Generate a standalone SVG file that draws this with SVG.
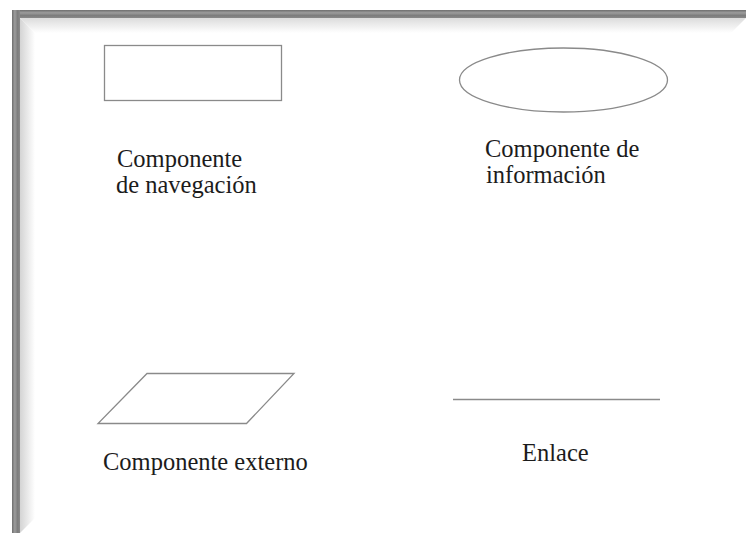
<svg xmlns="http://www.w3.org/2000/svg" width="746" height="533" viewBox="0 0 746 533">
  <defs>
    <linearGradient id="bandTop" x1="0" y1="0" x2="0" y2="1">
      <stop offset="0" stop-color="#6e6e6e"/>
      <stop offset="0.35" stop-color="#9c9c9c"/>
      <stop offset="0.7" stop-color="#7c7c7c"/>
      <stop offset="1" stop-color="#8a8a8a"/>
    </linearGradient>
    <linearGradient id="bandLeft" x1="0" y1="0" x2="1" y2="0">
      <stop offset="0" stop-color="#6e6e6e"/>
      <stop offset="0.35" stop-color="#9c9c9c"/>
      <stop offset="0.7" stop-color="#7c7c7c"/>
      <stop offset="1" stop-color="#8a8a8a"/>
    </linearGradient>
    <linearGradient id="shadeTop" x1="0" y1="0" x2="0" y2="1">
      <stop offset="0" stop-color="#dcdcdc"/>
      <stop offset="1" stop-color="#ffffff"/>
    </linearGradient>
    <linearGradient id="shadeLeft" x1="0" y1="0" x2="1" y2="0">
      <stop offset="0" stop-color="#d4d4d4"/>
      <stop offset="1" stop-color="#ffffff"/>
    </linearGradient>
  </defs>
  <style>
    .shape { fill: none; stroke: #8a8a8a; stroke-width: 1.3; }
    .label { font-family: "Liberation Serif", "Times New Roman", serif; font-size: 24.5px; fill: #1c1c1c; }
  </style>

  <rect x="0" y="0" width="746" height="533" fill="#ffffff"/>

  <!-- picture frame: bevel bands and inner shading -->
  <g id="frame">
    <polygon points="20,18 746,18 731,33 35,33" fill="url(#shadeTop)"/>
    <polygon points="20,18 35,33 35,518 20,533" fill="url(#shadeLeft)"/>
    <rect x="12" y="10" width="734" height="8" fill="url(#bandTop)"/>
    <rect x="12" y="10" width="8" height="523" fill="url(#bandLeft)"/>
  </g>

  <g id="nav-component">
    <rect class="shape" x="104.5" y="45.5" width="177" height="55"/>
    <text class="label" x="117" y="167">Componente</text>
    <text class="label" x="116" y="193">de navegación</text>
  </g>

  <g id="info-component">
    <ellipse class="shape" cx="563.5" cy="80" rx="104" ry="32"/>
    <text class="label" x="485" y="157">Componente de</text>
    <text class="label" x="486" y="183">información</text>
  </g>

  <g id="external-component">
    <polygon class="shape" points="147,373.5 294,373.5 246.5,423.5 98,423.5"/>
    <text class="label" x="103" y="470">Componente externo</text>
  </g>

  <g id="link-component">
    <line class="shape" x1="453" y1="399.5" x2="660" y2="399.5"/>
    <text class="label" x="522" y="461">Enlace</text>
  </g>

  <g id="connectors"/>
</svg>
